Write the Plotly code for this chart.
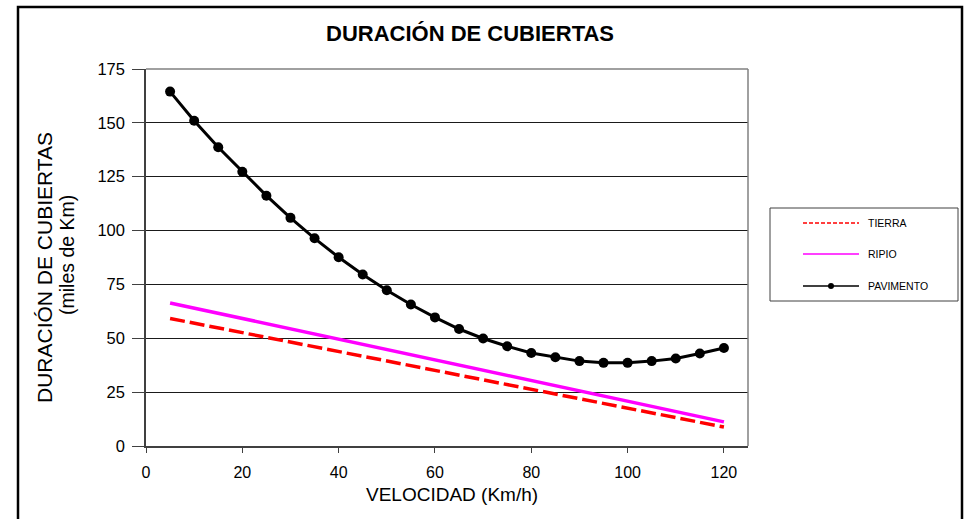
import plotly.graph_objects as go

# velocidad (km/h) y duracion de cubiertas (miles de km)
velocidad = [5, 10, 15, 20, 25, 30, 35, 40, 45, 50, 55, 60,
             65, 70, 75, 80, 85, 90, 95, 100, 105, 110, 115, 120]
tierra = [59.2, 57.0, 54.8, 52.6, 50.5, 48.3, 46.1, 43.9, 41.7, 39.5, 37.3, 35.1,
          33.0, 30.8, 28.6, 26.4, 24.2, 22.0, 19.8, 17.6, 15.5, 13.3, 11.1, 8.8]
ripio = [66.4, 64.0, 61.6, 59.2, 56.8, 54.4, 52.0, 49.6, 47.2, 44.8, 42.4, 40.0,
         37.6, 35.2, 32.8, 30.4, 28.0, 25.6, 23.2, 20.8, 18.4, 16.0, 13.6, 11.2]
pavimento = [164.5, 151.0, 138.7, 127.3, 116.2, 105.9, 96.4, 87.6, 79.6, 72.3, 65.7, 59.7,
             54.3, 49.9, 46.3, 43.2, 41.2, 39.4, 38.6, 38.6, 39.4, 40.6, 42.9, 45.5]

x_ticks = [0, 20, 40, 60, 80, 100, 120]
y_ticks = [0, 25, 50, 75, 100, 125, 150, 175]

FONT = "Liberation Sans, Arial, sans-serif"

# plot area in pixels (964x519 page)
L, R, T, B = 146, 748, 69, 446


def px(xp):  # pixel -> paper x
    return (xp - L) / (R - L)


def py(yp):  # pixel -> paper y
    return (B - yp) / (B - T)


fig = go.Figure()
fig.add_trace(go.Scatter(x=velocidad, y=tierra, name="TIERRA", mode="lines",
                         line=dict(color="#FF0000", width=3.5, dash="15px,5px")))
fig.add_trace(go.Scatter(x=velocidad, y=ripio, name="RIPIO", mode="lines",
                         line=dict(color="#FF00FF", width=3.5)))
fig.add_trace(go.Scatter(x=velocidad, y=pavimento, name="PAVIMENTO", mode="lines+markers",
                         line=dict(color="#000000", width=3),
                         marker=dict(color="#000000", size=10)))

shapes = [
    # outer chart border
    dict(type="rect", xref="paper", yref="paper", x0=px(18), x1=px(962), y0=py(540), y1=py(7),
         line=dict(color="#000000", width=2.5), layer="below"),
    # plot area border (top / right)
    dict(type="line", xref="paper", yref="paper", x0=0, x1=1, y0=1, y1=1,
         line=dict(color="#808080", width=1.5)),
    dict(type="line", xref="paper", yref="paper", x0=1, x1=1, y0=0, y1=1,
         line=dict(color="#808080", width=1.5)),
    # legend box
    dict(type="rect", xref="paper", yref="paper", x0=px(770), x1=px(958), y0=py(301), y1=py(208),
         line=dict(color="#404040", width=1), fillcolor="white"),
]


def label(text, xp, yp, size, angle=0, xanchor="center"):
    return dict(text=text, xref="paper", yref="paper", x=px(xp), y=py(yp),
                xanchor=xanchor, yanchor="middle", textangle=angle, showarrow=False,
                font=dict(family=FONT, size=size, color="#000000"))


annotations = [
    label("<b>DURACIÓN DE CUBIERTAS</b>", 470, 33, 22),
    label("DURACIÓN DE CUBIERTAS", 44, 268, 21, angle=-90),
    label("(miles de Km)", 67, 255, 19.5, angle=-90),
    label("VELOCIDAD (Km/h)", 452, 494, 19),
]

# legend drawn by hand to match the boxed legend of the original
legend_items = [("TIERRA", 223, dict(color="#FF0000", width=1.5, dash="4px,2px"), False),
                ("RIPIO", 254, dict(color="#FF00FF", width=1.5), False),
                ("PAVIMENTO", 286, dict(color="#000000", width=1.5), True)]
for name, yp, ln, dot in legend_items:
    shapes.append(dict(type="line", xref="paper", yref="paper", x0=px(803), x1=px(859),
                       y0=py(yp), y1=py(yp), line=ln))
    if dot:
        shapes.append(dict(type="circle", xref="paper", yref="paper",
                           x0=px(828), x1=px(834), y0=py(yp + 3), y1=py(yp - 3),
                           fillcolor="#000000", line=dict(color="#000000", width=0)))
    annotations.append(label(name, 866, yp, 10.5, xanchor="left"))

fig.update_layout(
    width=964, height=519,
    margin=dict(l=L, r=964 - R, t=T, b=519 - B),
    paper_bgcolor="white", plot_bgcolor="white",
    showlegend=False,
    font=dict(family=FONT, color="#000000"),
    shapes=shapes,
    annotations=annotations,
    xaxis=dict(range=[0, 125], tickvals=x_ticks, showgrid=False, zeroline=False,
               showline=True, linecolor="#404040", linewidth=1.5,
               ticks="outside", ticklen=5, tickcolor="#404040",
               tickfont=dict(size=16), ticklabelstandoff=6),
    yaxis=dict(range=[0, 175], tickvals=y_ticks, showgrid=True, gridcolor="#1a1a1a", gridwidth=1,
               zeroline=False, showline=True, linecolor="#404040", linewidth=1.5,
               ticks="outside", ticklen=12, tickcolor="#404040",
               tickfont=dict(size=16.5), ticklabelstandoff=4),
)

# drop the default page margin so the chart sits at the window's top-left corner
fig.write_html("out.html", config={"displayModeBar": False},
               post_script="document.body.style.margin='0';")
